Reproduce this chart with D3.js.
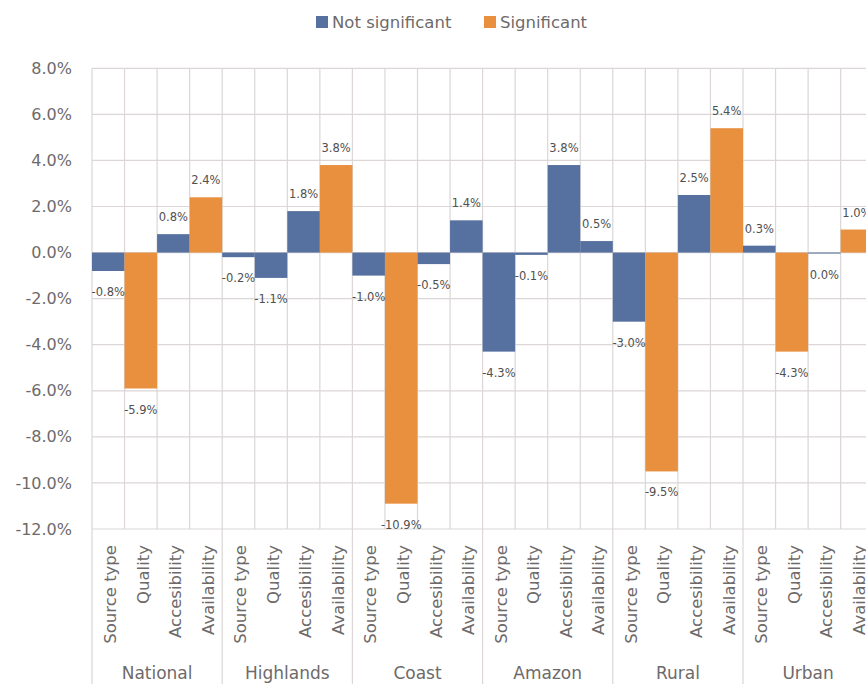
<!DOCTYPE html>
<html>
<head>
<meta charset="utf-8">
<script src="https://cdn.jsdelivr.net/npm/d3@7"></script>
<style>
  html, body { margin: 0; padding: 0; background: #fff; }
  svg { display: block; font-family: "DejaVu Sans", sans-serif; }
</style>
</head>
<body>
<svg id="chart" width="866" height="684"></svg>
<script>
// Regions and the four water-access factors measured in each
const regions = ["National", "Highlands", "Coast", "Amazon", "Rural", "Urban"];
const factors = ["Source type", "Quality", "Accesibility", "Availability"];

// Change (percentage points) per factor, one array per region
const nationalValues  = [-0.8, -5.9, 0.8, 2.4];
const highlandsValues = [-0.2, -1.1, 1.8, 3.8];
const coastValues     = [-1.0, -10.9, -0.5, 1.4];
const amazonValues    = [-4.3, -0.1, 3.8, 0.5];
const ruralValues     = [-3.0, -9.5, 2.5, 5.4];
const urbanValues     = [0.3, -4.3, -0.04, 1.0];

// Statistical significance of each change (same order)
const nationalSig  = [false, true, false, true];
const highlandsSig = [false, false, false, true];
const coastSig     = [false, true, false, false];
const amazonSig    = [false, false, false, false];
const ruralSig     = [false, true, false, true];
const urbanSig     = [false, true, false, true];

const seriesNames = ["Not significant", "Significant"];
const yTicks = [8, 6, 4, 2, 0, -2, -4, -6, -8, -10, -12];

const valuesByRegion = [nationalValues, highlandsValues, coastValues, amazonValues, ruralValues, urbanValues];
const sigByRegion = [nationalSig, highlandsSig, coastSig, amazonSig, ruralSig, urbanSig];

const rows = [];
regions.forEach((r, i) => {
  factors.forEach((f, j) => {
    rows.push({ key: r + "|" + f, region: r, factor: f,
                value: valuesByRegion[i][j], significant: sigByRegion[i][j] });
  });
});

const svg = d3.select("#chart");
const colors = { "Not significant": "#56709f", "Significant": "#e8903e" };
const gridColor = "#dcd6d6";

const plotLeft = 92, step = 32.55;
const plotRight = plotLeft + step * rows.length;
const plotTop = 68.3, plotBottom = 529;

const x = d3.scaleBand().domain(rows.map(d => d.key)).range([plotLeft, plotRight]).padding(0);
const y = d3.scaleLinear().domain([-12, 8]).range([plotBottom, plotTop]);

const loc = d3.formatLocale({ decimal: ".", thousands: ",", grouping: [3], currency: ["", ""], minus: "-" });
const pct = loc.format(".1f");

// Horizontal gridlines
svg.append("g").selectAll("line").data(yTicks).join("line")
  .attr("x1", plotLeft).attr("x2", plotRight)
  .attr("y1", d => y(d)).attr("y2", d => y(d))
  .attr("stroke", gridColor).attr("stroke-width", 1.2);

// Vertical gridlines at every category boundary
const boundaries = rows.map(d => x(d.key)).concat([plotRight]);
svg.append("g").selectAll("line").data(boundaries).join("line")
  .attr("x1", d => d).attr("x2", d => d)
  .attr("y1", plotTop).attr("y2", plotBottom)
  .attr("stroke", gridColor).attr("stroke-width", 1.2);

// Region separators below the category axis
const regionEdges = regions.map((r, i) => x(r + "|" + factors[0])).concat([plotRight]);
svg.append("g").selectAll("line").data(regionEdges).join("line")
  .attr("x1", d => d).attr("x2", d => d)
  .attr("y1", plotBottom).attr("y2", 684)
  .attr("stroke", gridColor).attr("stroke-width", 1.2);

// Y axis labels
const yAxis = d3.axisLeft(y).tickValues(yTicks).tickSize(0).tickPadding(0)
  .tickFormat(d => pct(d) + "%");
svg.append("g").attr("transform", `translate(${plotLeft - 20},0)`).call(yAxis)
  .call(g => g.select(".domain").remove())
  .call(g => g.selectAll("text").attr("font-size", 16).attr("fill", "#6e6a6a")
    .attr("font-family", "DejaVu Sans, sans-serif"));

// Bars
svg.append("g").selectAll("rect").data(rows).join("rect")
  .attr("x", d => x(d.key))
  .attr("width", x.bandwidth())
  .attr("y", d => y(Math.max(0, d.value)))
  .attr("height", d => Math.max(1, Math.abs(y(d.value) - y(0))))
  .attr("fill", d => colors[d.significant ? "Significant" : "Not significant"]);

// Value labels outside the bar end
svg.append("g").selectAll("text").data(rows).join("text")
  .attr("x", d => x(d.key) + x.bandwidth() / 2)
  .attr("y", d => d.value >= 0 ? y(d.value) - 17 : y(d.value) + 21)
  .attr("dy", "0.35em")
  .attr("text-anchor", "middle")
  .attr("font-size", 11.5)
  .attr("fill", "#505050")
  .text(d => pct(d.value) + "%");

// Category (factor) labels, rotated
svg.append("g").selectAll("text").data(rows).join("text")
  .attr("transform", d => `translate(${x(d.key) + x.bandwidth() / 2 + 2},545) rotate(-90)`)
  .attr("dy", "0.35em")
  .attr("text-anchor", "end")
  .attr("font-size", 16.5)
  .attr("fill", "#6e6a6a")
  .text(d => d.factor);

// Region labels
svg.append("g").selectAll("text").data(regions).join("text")
  .attr("x", (r, i) => (regionEdges[i] + regionEdges[i + 1]) / 2)
  .attr("y", 679)
  .attr("text-anchor", "middle")
  .attr("font-size", 17)
  .attr("fill", "#6e6a6a")
  .text(r => r);

// Legend
const legend = svg.append("g");
const legendItems = [
  { name: seriesNames[0], x: 316 },
  { name: seriesNames[1], x: 484 }
];
legend.selectAll("rect").data(legendItems).join("rect")
  .attr("x", d => d.x).attr("y", 16).attr("width", 12).attr("height", 12)
  .attr("fill", d => colors[d.name]);
legend.selectAll("text").data(legendItems).join("text")
  .attr("x", d => d.x + 16).attr("y", 22).attr("dy", "0.35em")
  .attr("font-size", 16.5).attr("fill", "#6e6a6a")
  .text(d => d.name);
</script>
</body>
</html>
